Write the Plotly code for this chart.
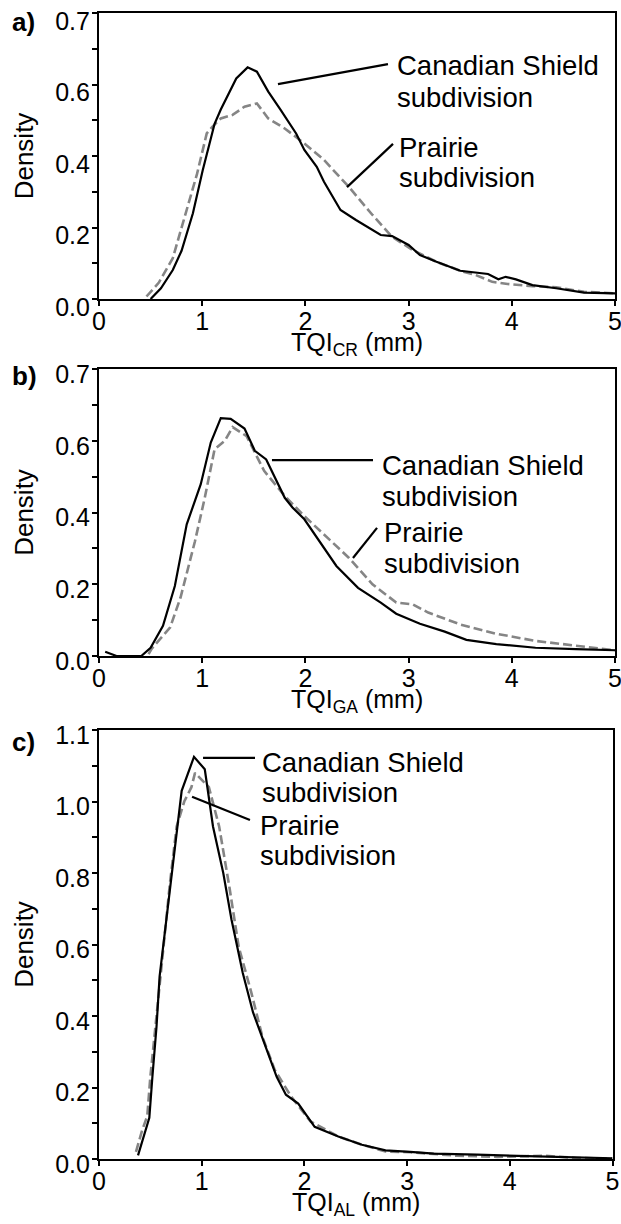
import plotly.graph_objects as go

# ---------------- data ----------------
# Panel a) TQI_CR
cs_a_x = [0.50, 0.60, 0.715, 0.80, 0.91, 1.005, 1.12, 1.18, 1.33, 1.44, 1.53, 1.64, 1.76, 1.91, 1.99,
          2.11, 2.18, 2.34, 2.49, 2.73, 2.84, 3.00, 3.11, 3.27, 3.50, 3.77, 3.87, 3.94, 4.04, 4.20,
          4.43, 4.70, 5.00]
cs_a_y = [0.0, 0.03, 0.081, 0.135, 0.24, 0.36, 0.49, 0.53, 0.617, 0.648, 0.636, 0.58, 0.529, 0.463,
          0.417, 0.37, 0.328, 0.249, 0.221, 0.179, 0.176, 0.151, 0.123, 0.104, 0.079, 0.07, 0.055,
          0.062, 0.055, 0.039, 0.03, 0.018, 0.016]
pr_a_x = [0.46, 0.58, 0.715, 0.83, 0.95, 1.044, 1.10, 1.18, 1.295, 1.41, 1.53, 1.64, 1.80, 1.99, 2.18,
          2.42, 2.65, 2.84, 3.04, 3.27, 3.50, 3.65, 3.81, 3.96, 4.20, 4.43, 4.70, 5.00]
pr_a_y = [0.007, 0.046, 0.114, 0.23, 0.35, 0.463, 0.482, 0.505, 0.515, 0.538, 0.547, 0.505, 0.477,
          0.435, 0.389, 0.314, 0.235, 0.174, 0.137, 0.104, 0.079, 0.067, 0.048, 0.042, 0.036, 0.033,
          0.02, 0.016]

# Panel b) TQI_GA
cs_b_x = [0.06, 0.135, 0.17, 0.41, 0.50, 0.62, 0.735, 0.85, 0.986, 1.083, 1.18, 1.276, 1.41, 1.51,
          1.62, 1.80, 1.875, 1.99, 2.18, 2.30, 2.51, 2.73, 2.88, 3.11, 3.35, 3.56, 3.85, 4.23, 4.62, 5.00]
cs_b_y = [0.012, 0.003, 0.0, 0.0, 0.023, 0.084, 0.195, 0.367, 0.479, 0.595, 0.663, 0.661, 0.634,
          0.572, 0.548, 0.441, 0.414, 0.381, 0.302, 0.251, 0.19, 0.149, 0.118, 0.09, 0.068, 0.045,
          0.033, 0.023, 0.019, 0.016]
pr_b_x = [0.48, 0.51, 0.69, 0.79, 0.93, 1.025, 1.12, 1.22, 1.295, 1.43, 1.60, 1.80, 1.99, 2.18, 2.42,
          2.65, 2.88, 3.04, 3.19, 3.50, 3.85, 4.23, 4.62, 5.00]
pr_b_y = [0.005, 0.02, 0.08, 0.163, 0.32, 0.441, 0.576, 0.60, 0.638, 0.613, 0.516, 0.446, 0.39, 0.339,
          0.274, 0.20, 0.149, 0.144, 0.121, 0.088, 0.062, 0.042, 0.028, 0.016]

# Panel c) TQI_AL
cs_c_x = [0.38, 0.44, 0.49, 0.52, 0.56, 0.59, 0.64, 0.69, 0.75, 0.805, 0.925, 1.03, 1.11, 1.21, 1.29,
          1.40, 1.50, 1.63, 1.73, 1.82, 1.94, 2.10, 2.33, 2.56, 2.79, 3.03, 3.26, 3.68, 4.07, 4.34,
          4.65, 5.00]
cs_c_y = [0.01, 0.07, 0.115, 0.23, 0.37, 0.51, 0.63, 0.745, 0.90, 1.03, 1.125, 1.09, 0.93, 0.80, 0.67,
          0.52, 0.41, 0.31, 0.23, 0.18, 0.155, 0.09, 0.063, 0.04, 0.024, 0.02, 0.015, 0.012, 0.009,
          0.007, 0.003, 0.002]
pr_c_x = [0.36, 0.42, 0.47, 0.50, 0.56, 0.626, 0.69, 0.756, 0.83, 0.90, 0.935, 1.07, 1.17, 1.27, 1.36,
          1.48, 1.59, 1.71, 1.87, 2.06, 2.33, 2.56, 2.79, 3.03, 3.49, 3.88, 4.34, 4.65, 5.00]
pr_c_y = [0.02, 0.08, 0.12, 0.23, 0.40, 0.594, 0.77, 0.93, 1.00, 1.04, 1.08, 1.04, 0.93, 0.76, 0.594,
          0.469, 0.343, 0.25, 0.175, 0.105, 0.063, 0.04, 0.021, 0.019, 0.009, 0.006, 0.009, 0.003, 0.001]

x_ticks = [0, 1, 2, 3, 4, 5]
y_ticks_ab = [0, 0.2, 0.4, 0.6, 0.8]
y_labels_ab = ["0.0", "0.2", "0.4", "0.6", "0.7"]
y_ticks_c = [0, 0.2, 0.4, 0.6, 0.8, 1.0, 1.2]
y_labels_c = ["0.0", "0.2", "0.4", "0.6", "0.8", "1.0", "1.1"]
x_titles = ["TQI<sub>CR</sub> (mm)", "TQI<sub>GA</sub> (mm)", "TQI<sub>AL</sub> (mm)"]
panel_labels = ["a)", "b)", "c)"]
series_names = ["Canadian Shield subdivision", "Prairie subdivision"]

# ---------------- figure ----------------
FONT = "Arial, Liberation Sans, Helvetica, sans-serif"
W, H = 621, 1224
ML, MR, MT, MB = 99, 6, 13, 65
PW, PH = W - ML - MR, H - MT - MB

def py2paper(ypx):
    return (H - MB - ypx) / PH

def ydom(top_px, bot_px):
    return [py2paper(bot_px), py2paper(top_px)]

panels = [
    dict(cs=(cs_a_x, cs_a_y), pr=(pr_a_x, pr_a_y), top=13, bot=299, xdom=[0, 1],
         yrange=[0, 0.8], yt=y_ticks_ab, yl=y_labels_ab, shift=8),
    dict(cs=(cs_b_x, cs_b_y), pr=(pr_b_x, pr_b_y), top=369, bot=656, xdom=[0, 1],
         yrange=[0, 0.8], yt=y_ticks_ab, yl=y_labels_ab, shift=5),
    dict(cs=(cs_c_x, cs_c_y), pr=(pr_c_x, pr_c_y), top=730, bot=1159, xdom=[0, 513.5 / PW],
         yrange=[0, 1.2], yt=y_ticks_c, yl=y_labels_c, shift=5),
]

fig = go.Figure()
layout = dict(
    width=W, height=H,
    margin=dict(l=ML, r=MR, t=MT, b=MB, autoexpand=False),
    paper_bgcolor="white", plot_bgcolor="white",
    showlegend=False,
    font=dict(family=FONT, color="black", size=24),
)

ann = []
for i, p in enumerate(panels):
    n = "" if i == 0 else str(i + 1)
    xa, ya = "x" + n, "y" + n
    fig.add_trace(go.Scatter(x=p["pr"][0], y=p["pr"][1], mode="lines", name=series_names[1],
                             line=dict(color="#858585", width=2.6, dash="9px,4px"),
                             xaxis=xa, yaxis=ya, hoverinfo="skip"))
    fig.add_trace(go.Scatter(x=p["cs"][0], y=p["cs"][1], mode="lines", name=series_names[0],
                             line=dict(color="black", width=2.2),
                             xaxis=xa, yaxis=ya, hoverinfo="skip"))
    layout["xaxis" + n] = dict(
        domain=p["xdom"], anchor=ya, range=[0, 5], tickvals=x_ticks,
        ticktext=[str(v) for v in x_ticks], showgrid=False, zeroline=False,
        showline=True, mirror=True, linecolor="black", linewidth=2.2,
        ticks="outside", ticklen=5, tickwidth=2, tickcolor="black",
        tickfont=dict(size=25), ticklabelstandoff=-6, ticklabeloverflow="allow",
    )
    layout["yaxis" + n] = dict(
        domain=ydom(p["top"], p["bot"]), anchor=xa, range=p["yrange"], tickvals=p["yt"],
        ticktext=p["yl"], showgrid=False, zeroline=False,
        showline=True, mirror=True, linecolor="black", linewidth=2.2,
        ticks="outside", ticklen=5, tickwidth=2, tickcolor="black",
        tickfont=dict(size=25), ticklabelstandoff=-3, ticklabelshift=p["shift"],
        ticklabeloverflow="allow",
        minor=dict(tickmode="linear", tick0=0, dtick=0.1, ticks="outside", ticklen=5,
                   tickwidth=2, tickcolor="black", showgrid=False),
        title=dict(text="Density", font=dict(size=26), standoff=14),
    )
    # x-axis title placed just under the tick labels, as in the reference
    xd = p["xdom"]
    ann.append(dict(text=x_titles[i], x=(xd[0] + xd[1]) / 2, y=py2paper(p["bot"] + 45),
                    xref="paper", yref="paper", xanchor="center", yanchor="middle",
                    showarrow=False, font=dict(size=25, family=FONT)))

fig.update_layout(**layout)

# ---------------- annotations (labels + leader lines) ----------------
shapes = []
label_specs = [
    # (panel index, text, x, y)
    (0, "Canadian Shield", 2.868, 0.652), (0, "subdivision", 2.868, 0.565),
    (0, "Prairie", 2.888, 0.425), (0, "subdivision", 2.888, 0.341),
    (1, "Canadian Shield", 2.723, 0.530), (1, "subdivision", 2.723, 0.446),
    (1, "Prairie", 2.742, 0.343), (1, "subdivision", 2.742, 0.259),
    (2, "Canadian Shield", 1.568, 1.110), (2, "subdivision", 1.568, 1.024),
    (2, "Prairie", 1.548, 0.934), (2, "subdivision", 1.548, 0.850),
]
for pi, txt, x, y in label_specs:
    n = "" if pi == 0 else str(pi + 1)
    ann.append(dict(text=txt, x=x, y=y, xref="x" + n, yref="y" + n, xanchor="left",
                    yanchor="middle", showarrow=False, font=dict(size=27.5, family=FONT)))

leaders = [
    (0, 1.734, 0.601, 2.80, 0.657), (0, 2.403, 0.313, 2.849, 0.434),
    (1, 1.676, 0.546, 2.655, 0.546), (1, 2.461, 0.273, 2.694, 0.357),
    (2, 1.013, 1.122, 1.519, 1.122), (2, 0.906, 1.013, 1.470, 0.948),
]
for pi, x0, y0, x1, y1 in leaders:
    n = "" if pi == 0 else str(pi + 1)
    shapes.append(dict(type="line", xref="x" + n, yref="y" + n, x0=x0, y0=y0, x1=x1, y1=y1,
                       line=dict(color="black", width=2.2)))

label_px = [22, 376, 742]
for lab, ypx in zip(panel_labels, label_px):
    ann.append(dict(text="<b>" + lab + "</b>", x=(10 - ML) / PW, y=py2paper(ypx),
                    xref="paper", yref="paper", xanchor="left", yanchor="middle",
                    showarrow=False, font=dict(size=26, family=FONT)))

fig.update_layout(annotations=ann, shapes=shapes)
fig.write_html("out.html", config={"displayModeBar": False},
               post_script="document.body.style.margin='0px';")
